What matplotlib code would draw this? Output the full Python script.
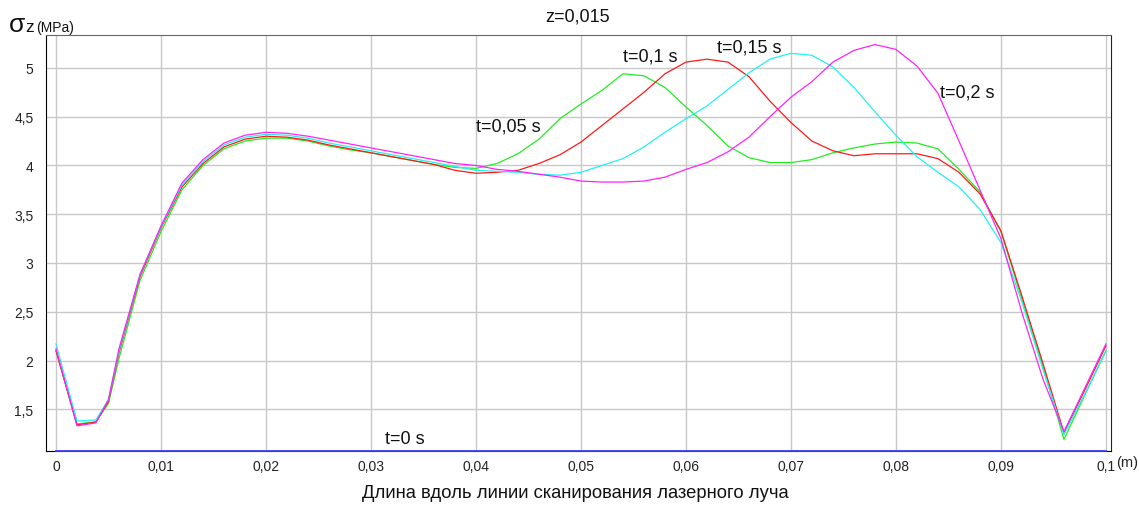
import numpy as np
import matplotlib
matplotlib.use("Agg")
import matplotlib.pyplot as plt

plt.rcParams['font.family'] = ['Liberation Sans', 'DejaVu Sans']

# positions along the scan line (m)
x = np.array([0, 0.002, 0.0038, 0.005, 0.006, 0.008, 0.010, 0.012, 0.014, 0.016,
              0.018, 0.020, 0.022, 0.024, 0.026, 0.028, 0.030, 0.032, 0.034, 0.036,
              0.038, 0.040, 0.042, 0.044, 0.046, 0.048, 0.050, 0.052, 0.054, 0.056,
              0.058, 0.060, 0.062, 0.064, 0.066, 0.068, 0.070, 0.072, 0.074, 0.076,
              0.078, 0.080, 0.082, 0.084, 0.086, 0.088, 0.090, 0.092, 0.094, 0.096,
              0.098, 0.100])

# sigma_z (MPa) at each time
s_t0 = np.zeros(len(x))
s_t005 = [2.10, 1.35, 1.37, 1.56, 2.02, 2.82, 3.32, 3.75, 4.00, 4.17,
          4.25, 4.28, 4.28, 4.25, 4.20, 4.16, 4.13, 4.09, 4.05, 4.01,
          3.98, 3.97, 4.02, 4.12, 4.27, 4.48, 4.63, 4.77, 4.94, 4.92,
          4.80, 4.60, 4.41, 4.20, 4.08, 4.03, 4.03, 4.06, 4.13, 4.18,
          4.22, 4.24, 4.23, 4.17, 3.96, 3.73, 3.32, 2.63, 1.94, 1.19,
          1.65, 2.10]
s_t01 = [2.10, 1.34, 1.37, 1.58, 2.08, 2.86, 3.36, 3.78, 4.02, 4.19,
         4.27, 4.30, 4.29, 4.26, 4.21, 4.17, 4.13, 4.09, 4.05, 4.01,
         3.95, 3.92, 3.93, 3.95, 4.02, 4.11, 4.24, 4.41, 4.58, 4.75,
         4.94, 5.06, 5.09, 5.06, 4.91, 4.66, 4.44, 4.25, 4.15, 4.10,
         4.12, 4.12, 4.12, 4.07, 3.93, 3.71, 3.33, 2.66, 1.97, 1.26,
         1.70, 2.15]
s_t015 = [2.17, 1.38, 1.39, 1.60, 2.10, 2.88, 3.37, 3.80, 4.04, 4.21,
          4.29, 4.32, 4.31, 4.28, 4.23, 4.19, 4.15, 4.11, 4.07, 4.03,
          3.99, 3.95, 3.94, 3.93, 3.91, 3.90, 3.93, 4.00, 4.07, 4.19,
          4.34, 4.48, 4.61, 4.78, 4.95, 5.09, 5.15, 5.13, 5.01, 4.80,
          4.55, 4.31, 4.09, 3.93, 3.78, 3.55, 3.21, 2.60, 1.91, 1.24,
          1.66, 2.10]
s_t02 = [2.12, 1.33, 1.36, 1.60, 2.12, 2.88, 3.38, 3.82, 4.06, 4.23,
         4.31, 4.34, 4.33, 4.30, 4.26, 4.22, 4.18, 4.14, 4.10, 4.06,
         4.02, 4.00, 3.96, 3.94, 3.91, 3.88, 3.84, 3.83, 3.83, 3.84,
         3.88, 3.96, 4.03, 4.14, 4.29, 4.50, 4.70, 4.86, 5.06, 5.18,
         5.24, 5.19, 5.02, 4.74, 4.25, 3.75, 3.25, 2.49, 1.81, 1.27,
         1.72, 2.17]

xticks = [0, 0.01, 0.02, 0.03, 0.04, 0.05, 0.06, 0.07, 0.08, 0.09, 0.1]
xlabels = ['0', '0,01', '0,02', '0,03', '0,04', '0,05', '0,06', '0,07', '0,08', '0,09', '0,1']
yticks = [1.5, 2, 2.5, 3, 3.5, 4, 4.5, 5]
ylabels = ['1,5', '2', '2,5', '3', '3,5', '4', '4,5', '5']

ymin, ymax = 1.072, 5.338

fig = plt.figure(figsize=(11.39, 5.06), dpi=100)
ax = fig.add_axes([0.0404, 0.1067, 0.9350, 0.8222])

ax.plot(x, np.clip(s_t0, ymin, None), color='#3c3cff', lw=1.3, clip_on=False, zorder=3)
ax.plot(x, s_t005, color='#22ee22', lw=0.9)
ax.plot(x, s_t01, color='#ff1a1a', lw=0.9)
ax.plot(x, s_t015, color='#22f2f2', lw=0.9)
ax.plot(x, s_t02, color='#ff22ff', lw=0.9)

ax.set_xlim(-0.00095, 0.10048)
ax.set_ylim(ymin, ymax)
ax.set_xticks(xticks)
ax.set_xticklabels(xlabels)
ax.set_yticks(yticks)
ax.set_yticklabels(ylabels)
ax.tick_params(length=0, labelsize=10, colors='#222222')
ax.tick_params(axis='x', pad=6)
ax.tick_params(axis='y', pad=9)
ax.grid(True, color='#c8c8c8', lw=1.0)
ax.set_axisbelow(True)

for side in ['left', 'bottom']:
    ax.spines[side].set_color('black')
ax.spines['top'].set_color('#666666')
ax.spines['right'].set_color('#222222')

# curve labels
txt = dict(fontsize=13, color='#111111', va='center', ha='left')
ax.text(0.0313, 1.20, 't=0 s', **txt)
ax.text(0.0400, 4.405, 't=0,05 s', **txt)
ax.text(0.0540, 5.118, 't=0,1 s', **txt)
ax.text(0.0630, 5.21, 't=0,15 s', **txt)
ax.text(0.0842, 4.75, 't=0,2 s', **txt)

fig.text(578 / 1139, 1 - 16.5 / 506, 'z=0,015', fontsize=13, color='#111111',
         ha='center', va='center')
fig.text(575 / 1139, 1 - 494 / 506, 'Длина вдоль линии сканирования лазерного луча',
         fontsize=13.2, color='#111111', ha='center', va='center')

fig.text(1116 / 1139, 1 - 463 / 506, '(m)', fontsize=10.5, color='#222222', va='center', ha='left')
fig.text(9 / 1139, 1 - 32 / 506, 'σ', fontsize=19, color='#111111', va='baseline')
fig.text(25 / 1139, 1 - 32 / 506, 'z', fontsize=12.5, color='#111111', va='baseline')
fig.text(36 / 1139, 1 - 32 / 506, '(MPa)', fontsize=10, color='#111111', va='baseline')

plt.savefig('out.png', dpi=100)
